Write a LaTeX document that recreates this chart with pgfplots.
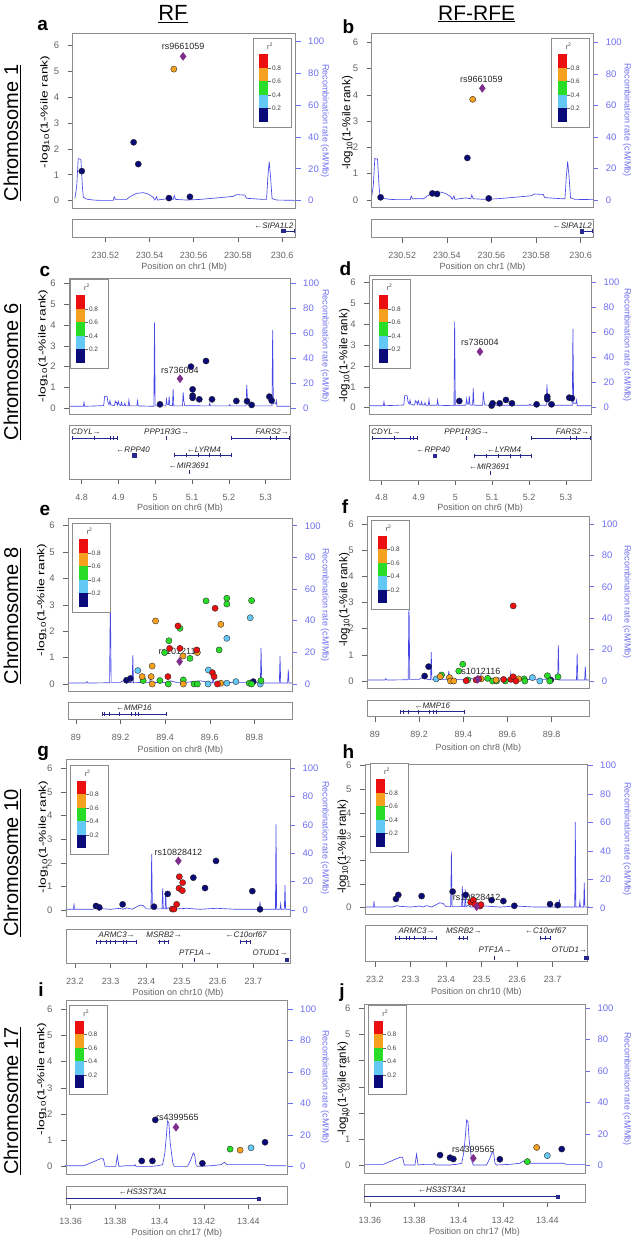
\documentclass[border=0pt]{standalone}
\usepackage{fontspec}
\setmainfont{Liberation Sans}
\usepackage{graphicx}
\usepackage{pgfplots}
\usepackage{pgfplotstable}
\pgfplotsset{compat=1.18}

\definecolor{lznavy}{RGB}{10,10,120}
\definecolor{lzcyan}{RGB}{100,200,245}
\definecolor{lzgreen}{RGB}{40,220,40}
\definecolor{lzorange}{RGB}{245,160,30}
\definecolor{lzred}{RGB}{235,15,15}
\definecolor{lzpurple}{RGB}{125,45,140}
\definecolor{recblue}{RGB}{70,70,230}
\definecolor{axblue}{RGB}{110,110,240}
\definecolor{tickgray}{RGB}{100,100,100}
\definecolor{boxgray}{RGB}{140,140,140}
\definecolor{genecol}{RGB}{40,40,140}

% recombination rate tables (Mb, cM/Mb)
\pgfplotstableread{
x y
230.5062 1.5
230.5070 8.8
230.5077 26.3
230.5089 25.9
230.5096 8.8
230.5100 2.1
230.5115 1.0
230.5145 0.4
230.5175 0.2
230.5236 0.2
230.5240 2.5
230.5246 0.8
230.5296 0.8
230.5311 2.5
230.5341 4.6
230.5372 5.0
230.5394 4.2
230.5417 2.1
230.5424 0.4
230.5432 2.5
230.5436 0.4
230.5485 1.3
230.5507 0.8
230.5512 3.1
230.5518 0.8
230.5568 0.4
230.5628 0.8
230.5703 1.7
230.5779 2.7
230.5794 3.8
230.5832 3.5
230.5839 1.5
230.5915 0.8
230.5930 0.8
230.5936 15
230.5942 24.4
230.5948 15
230.5955 1.3
230.5975 0.4
230.6061 0.2
}\recA
\pgfplotstableread{
x y
4.7665 1.6
4.8045 1.6
4.8063 4.8
4.8081 1.6
4.8407 1.9
4.8600 2.2
4.8625 9.6
4.8690 9.6
4.8715 4.8
4.8745 2.9
4.8769 6.1
4.8790 2.9
4.8859 2.1
4.8895 2.1
4.8913 5.6
4.8930 4.5
4.8950 4.8
4.8970 2.5
4.8995 5.6
4.9020 2.9
4.9060 2.1
4.9085 4.8
4.9105 2.1
4.9155 2.1
4.9175 4.0
4.9195 1.9
4.9265 1.9
4.9284 6.6
4.9303 1.9
4.9500 1.9
4.9519 6.1
4.9538 1.9
4.9962 1.6
4.9980 68.6
4.9998 1.9
5.0285 1.9
5.0306 7.2
5.0325 2.9
5.0360 2.9
5.0378 9.3
5.0396 2.1
5.0468 2.1
5.0486 15.4
5.0504 1.9
5.0740 1.9
5.0758 12.8
5.0776 6.1
5.0800 2.1
5.1462 1.9
5.1481 4.0
5.1500 1.9
5.2005 1.9
5.2023 2.9
5.2041 1.9
5.2467 1.9
5.2485 18.6
5.2503 8.8
5.2525 1.9
5.3172 1.9
5.3190 62.8
5.3208 3.5
5.3272 3.5
5.3290 6.1
5.3308 1.6
5.3678 1.6
}\recC
\pgfplotstableread{
x y
88.966 0.6
89.045 0.6
89.050 1.5
89.055 0.6
89.151 0.8
89.1545 55
89.158 1.0
89.200 1.0
89.210 2.0
89.225 1.5
89.240 1.0
89.252 0.8
89.2553 18.3
89.258 0.8
89.300 1.0
89.331 1.0
89.3346 6.4
89.338 1.0
89.400 0.8
89.425 2.0
89.450 1.0
89.477 1.0
89.480 4.0
89.483 0.8
89.520 1.5
89.560 2.0
89.600 0.8
89.612 0.8
89.615 5.0
89.618 0.8
89.700 1.0
89.827 1.0
89.830 22.9
89.833 0.6
89.912 0.6
89.915 17.6
89.918 0.6
89.949 0.6
89.952 9.1
89.955 0.6
89.968 0.6
}\recE
\pgfplotstableread{
x y
23.174 0.5
23.196 0.5
23.1972 4.7
23.1985 0.5
23.250 0.5
23.2607 1.5
23.2701 1.0
23.300 0.5
23.3262 1.2
23.335 0.5
23.3449 1.5
23.360 0.5
23.3822 3.5
23.3916 3.0
23.400 0.8
23.413 0.8
23.415 39.5
23.417 0.8
23.444 0.8
23.4458 15.3
23.4475 0.8
23.4525 0.8
23.4542 13.0
23.456 0.8
23.4617 1.6
23.470 0.5
23.5131 1.2
23.550 0.5
23.5972 1.2
23.650 0.5
23.717 0.5
23.7187 5.9
23.7205 0.5
23.7514 0.5
23.762 0.5
23.7636 60.5
23.7652 0.5
23.775 0.5
23.7766 4.2
23.778 0.5
23.787 0.5
23.7888 17.6
23.7905 0.5
23.8028 0.5
}\recG
\pgfplotstableread{
x y
13.3573 0.6
13.3660 0.6
13.3735 5.1
13.3747 5.1
13.3755 0.2
13.3803 0.2
13.3810 7.0
13.3817 0.2
13.3848 0.6
13.3886 0.6
13.3890 1.3
13.3895 0.2
13.3961 0.2
13.3991 0.6
13.4014 1.3
13.4024 8.7
13.4032 21.4
13.4036 28.9
13.4042 27.8
13.4048 15.1
13.4054 8.7
13.4060 2.3
13.4066 0.2
13.4126 0.2
13.4141 4.5
13.4152 8.7
13.4158 7.6
13.4164 1.3
13.4171 0.2
13.4232 0.6
13.4277 1.3
13.4292 2.8
13.4304 1.3
13.4382 1.3
13.4472 1.3
13.4487 0.6
13.4570 0.6
}\recI

\pgfplotsset{
  every axis/.append style={scale only axis, anchor=south west, scaled ticks=false, clip=false},
  /pgf/number format/assume math mode=true,
  mainax/.style={axis line style={boxgray, line width=0.5pt}, xtick=\empty, ytick={0,1,2,3,4,5,6}, ytick pos=left,
    tick align=outside, major tick length=5pt, every tick/.style={tickgray, line width=0.5pt},
    yticklabel style={font=\fontsize{9.5}{10}\selectfont, text=tickgray, xshift=-5pt}},
  recax/.style={axis x line=none, axis y line*=right, y axis line style={draw=none}, xtick=\empty,
    ytick={0,20,40,60,80,100}, tick align=outside, major tick length=5pt,
    every tick/.style={axblue, line width=0.5pt},
    yticklabel style={font=\fontsize{9.5}{10}\selectfont, text=axblue, xshift=4pt}},
  geneax/.style={axis line style={boxgray, line width=0.5pt}, ymin=0, ymax=1, ytick=\empty, xtick pos=bottom,
    tick align=outside, major tick length=5pt, every tick/.style={tickgray, line width=0.5pt},
    xticklabel style={font=\fontsize{9}{10}\selectfont, text=tickgray, yshift=-6pt}},
  pt/.style={only marks, mark=*, mark size=3.1pt, mark options={draw=black!85, line width=0.35pt, fill=#1}},
  lead/.style={only marks, mark=diamond*, mark size=4pt, mark options={draw=lzpurple, fill=lzpurple}},
  recline/.style={recblue, line width=0.65pt, mark=none},
  gene/.style={genecol, line width=0.6pt, mark=none},
  exon/.style={only marks, mark=|, mark size=2pt, mark options={genecol, line width=0.8pt}},
  exonbox/.style={only marks, mark=square*, mark size=1.6pt, mark options={genecol}},
}
\tikzset{
  rslab/.style={font=\fontsize{9}{10}\selectfont, text=black!85, inner sep=0pt},
  genelab/.style={font=\fontsize{8}{9}\selectfont\itshape, text=black!85, inner sep=0pt},
  xlab/.style={font=\fontsize{9}{10}\selectfont, text=tickgray},
  reclab/.style={font=\fontsize{9}{10}\selectfont, text=axblue, rotate=-90},
  ylabL/.style={rotate=90},
  ylabR/.style={rotate=90, font=\fontsize{11.5}{13}\selectfont},
  plet/.style={font=\fontsize{19}{20}\selectfont\bfseries, inner sep=0pt},
  chrlab/.style={rotate=90, font=\fontsize{20}{22}\selectfont},
}
\newcommand{\ylabtext}{-log\textsubscript{10}(1-\%ile rank)}
\newcommand{\ylabLeft}{\scalebox{1.38}[1]{\fontsize{10}{11}\selectfont\ylabtext}}
\newcommand{\rsqlegend}[2]{%
  \begin{scope}[shift={({#1pt},{1240pt-#2pt})}]
    \fill[white] (0,0) rectangle (38pt,-89pt);
    \draw[boxgray, line width=0.5pt] (0,0) rectangle (38pt,-89pt);
    \fill[lzred] (6pt,-16pt) rectangle (15pt,-29.5pt);
    \fill[lzorange] (6pt,-29.5pt) rectangle (15pt,-43pt);
    \fill[lzgreen] (6pt,-43pt) rectangle (15pt,-56.5pt);
    \fill[lzcyan] (6pt,-56.5pt) rectangle (15pt,-70pt);
    \fill[lznavy] (6pt,-70pt) rectangle (15pt,-83.5pt);
    \foreach \yy/\tt in {-29.5/0.8,-43/0.6,-56.5/0.4,-70/0.2}{
      \draw[black!60, line width=0.4pt] (15pt,\yy pt) -- (18pt,\yy pt);
      \node[anchor=west, inner sep=0.8pt, font=\fontsize{6.5}{7}\selectfont, text=black!75] at (18pt,\yy pt) {\tt};
    }
    \node[font=\fontsize{7}{8}\selectfont, text=black!75] at (17pt,-8pt) {r\textsuperscript{2}};
  \end{scope}}

\begin{document}
\begin{tikzpicture}
\path[use as bounding box] (0,0) rectangle (633pt,1240pt);

% titles and row labels
\node[font=\fontsize{22}{24}\selectfont] at (173pt,1226pt) {\underline{RF}};
\node[font=\fontsize{21}{24}\selectfont] at (476.7pt,1226pt) {\underline{RF-RFE}};
\node[chrlab] at (12pt,1107pt) {\underline{Chromosome 1}};
\node[chrlab] at (12pt,868pt) {\underline{Chromosome 6}};
\node[chrlab] at (12pt,624pt) {\underline{Chromosome 8}};
\node[chrlab] at (12pt,377pt) {\underline{Chromosome 10}};
\node[chrlab] at (12pt,139pt) {\underline{Chromosome 17}};

%%%%%%%%%%%%%%%% Panel a %%%%%%%%%%%%%%%%
\begin{axis}[recax, at={(72.7pt,1031.7pt)}, width=223pt, height=175pt, xmin=230.5052, xmax=230.6062, ymin=-4.76, ymax=104.8]
  \addplot[recline] table[x=x,y=y] {\recA};
  \draw[axblue, line width=0.6pt] (axis cs:230.6062,0) -- (axis cs:230.6062,100);
\end{axis}
\begin{axis}[mainax, at={(72.7pt,1031.7pt)}, width=223pt, height=175pt, xmin=230.5052, xmax=230.6062, ymin=-0.293, ymax=6.451]
  \node[rslab] at (axis cs:230.5552,5.93) {rs9661059};
  \addplot[pt=lznavy] coordinates {(230.5093,1.14) (230.5328,2.25) (230.5349,1.41) (230.5488,0.10) (230.5583,0.15)};
  \addplot[pt=lzorange] coordinates {(230.5510,5.07)};
  \addplot[lead] coordinates {(230.5552,5.56)};
\end{axis}
\begin{axis}[geneax, at={(72.7pt,1002.7pt)}, width=223pt, height=18.3pt, xmin=230.5052, xmax=230.6062, xtick={230.52,230.54,230.56,230.58,230.6}]
  \addplot[gene] coordinates {(230.6002,0.345) (230.6058,0.345)};
  \addplot[exonbox] coordinates {(230.6005,0.345)};
  \addplot[exon] coordinates {(230.6058,0.345)};
  \node[genelab] at (axis cs:230.5963,0.64) {←SIPA1L2};
\end{axis}
\node[ylabL] at (45pt,1128pt) {\ylabLeft};
\node[reclab] at (325pt,1119pt) {Recombination rate (cM/Mb)};
\node[xlab] at (184.2pt,973pt) {Position on chr1 (Mb)};
\node[plet] at (42.7pt,1214.5pt) {a};
\rsqlegend{253}{38.3}

%%%%%%%%%%%%%%%% Panel b %%%%%%%%%%%%%%%%
\begin{axis}[recax, at={(371.7pt,1032.7pt)}, width=221.6pt, height=174pt, xmin=230.5063, xmax=230.6057, ymin=-4.63, ymax=105.7]
  \addplot[recline] table[x=x,y=y] {\recA};
  \draw[axblue, line width=0.6pt] (axis cs:230.6057,0) -- (axis cs:230.6057,100);
\end{axis}
\begin{axis}[mainax, at={(371.7pt,1032.7pt)}, width=221.6pt, height=174pt, xmin=230.5063, xmax=230.6057, ymin=-0.278, ymax=6.343]
  \node[rslab] at (axis cs:230.5555,4.60) {rs9661059};
  \addplot[pt=lznavy] coordinates {(230.5103,0.10) (230.5335,0.25) (230.5356,0.23) (230.5492,1.60) (230.5588,0.06)};
  \addplot[pt=lzorange] coordinates {(230.5516,3.83)};
  \addplot[lead] coordinates {(230.5559,4.25)};
\end{axis}
\begin{axis}[geneax, at={(371.7pt,1002.3pt)}, width=221.6pt, height=18.7pt, xmin=230.5063, xmax=230.6057, xtick={230.52,230.54,230.56,230.58,230.6}]
  \addplot[gene] coordinates {(230.6002,0.345) (230.6055,0.345)};
  \addplot[exonbox] coordinates {(230.6005,0.345)};
  \addplot[exon] coordinates {(230.6055,0.345)};
  \node[genelab] at (axis cs:230.5963,0.64) {←SIPA1L2};
\end{axis}
\node[ylabR] at (347.5pt,1117pt) {\ylabtext};
\node[reclab] at (627pt,1120pt) {Recombination rate (cM/Mb)};
\node[xlab] at (482.5pt,973pt) {Position on chr1 (Mb)};
\node[plet] at (348.3pt,1213pt) {b};
\rsqlegend{551.7}{38.3}

%%%%%%%%%%%%%%%% Panel c %%%%%%%%%%%%%%%%
\begin{axis}[recax, at={(69.3pt,825.7pt)}, width=221.4pt, height=136pt, xmin=4.7665, xmax=5.368, ymin=-4.8, ymax=104]
  \addplot[recline] table[x=x,y=y] {\recC};
  \draw[axblue, line width=0.6pt] (axis cs:5.368,0) -- (axis cs:5.368,100);
\end{axis}
\begin{axis}[mainax, at={(69.3pt,825.7pt)}, width=221.4pt, height=136pt, xmin=4.7665, xmax=5.368, ymin=-0.288, ymax=6.24]
  \node[rslab] at (axis cs:5.0672,1.84) {rs736004};
  \addplot[pt=lznavy] coordinates {(5.0129,0.19) (5.0971,2.0) (5.1379,2.27) (5.1016,0.91) (5.1016,0.61) (5.1016,0.50) (5.1197,0.43) (5.1542,0.43) (5.2203,0.35) (5.2493,0.34) (5.2620,0.16) (5.3100,0.56) (5.3163,0.37)};
  \addplot[lead] coordinates {(5.0672,1.42)};
\end{axis}
\begin{axis}[geneax, at={(69.3pt,760.7pt)}, width=221.4pt, height=54.3pt, xmin=4.7665, xmax=5.368, xtick={4.8,4.9,5,5.1,5.2,5.3}]
  \addplot[gene] coordinates {(4.7756,0.758) (4.8967,0.758)};
  \addplot[exon] coordinates {(4.7756,0.758) (4.8343,0.758) (4.8769,0.758) (4.8859,0.758) (4.8967,0.758)};
  \addplot[exon] coordinates {(5.0306,0.758)};
  \addplot[gene] coordinates {(5.2069,0.758) (5.3651,0.758)};
  \addplot[exon] coordinates {(5.2069,0.758) (5.3127,0.758) (5.3278,0.758) (5.3651,0.758)};
  \addplot[exonbox] coordinates {(4.9429,0.442)};
  \addplot[gene] coordinates {(5.0514,0.442) (5.2069,0.442)};
  \addplot[exon] coordinates {(5.0514,0.442) (5.0848,0.442) (5.1165,0.442) (5.1481,0.442) (5.1770,0.442) (5.2069,0.442)};
  \addplot[exon] coordinates {(5.0939,0.133)};
  \node[genelab] at (axis cs:4.812,0.879) {CDYL→};
  \node[genelab] at (axis cs:5.031,0.879) {PPP1R3G→};
  \node[genelab] at (axis cs:5.318,0.879) {FARS2→};
  \node[genelab] at (axis cs:4.940,0.545) {←RPP40};
  \node[genelab] at (axis cs:5.132,0.545) {←LYRM4};
  \node[genelab] at (axis cs:5.092,0.242) {←MIR3691};
\end{axis}
\node[ylabL] at (43pt,894pt) {\ylabLeft};
\node[reclab] at (325pt,894pt) {Recombination rate (cM/Mb)};
\node[xlab] at (180pt,732pt) {Position on chr6 (Mb)};
\node[plet] at (45pt,968.3pt) {c};
\rsqlegend{70}{279.3}

%%%%%%%%%%%%%%%% Panel d %%%%%%%%%%%%%%%%
\begin{axis}[recax, at={(369.3pt,825.7pt)}, width=221.7pt, height=139.3pt, xmin=4.7665, xmax=5.368, ymin=-5.26, ymax=105.8]
  \addplot[recline] table[x=x,y=y] {\recC};
  \draw[axblue, line width=0.6pt] (axis cs:5.368,0) -- (axis cs:5.368,100);
\end{axis}
\begin{axis}[mainax, at={(369.3pt,825.7pt)}, width=221.7pt, height=139.3pt, xmin=4.7665, xmax=5.368, ymin=-0.316, ymax=6.35]
  \node[rslab] at (axis cs:5.0667,3.11) {rs736004};
  \addplot[pt=lznavy] coordinates {(5.0107,0.32) (5.0984,0.10) (5.1011,0.21) (5.1201,0.21) (5.1373,0.37) (5.1535,0.21) (5.2204,0.16) (5.2494,0.41) (5.2494,0.53) (5.2611,0.16) (5.3090,0.48) (5.3163,0.45)};
  \addplot[lead] coordinates {(5.0667,2.68)};
\end{axis}
\begin{axis}[geneax, at={(369.3pt,760pt)}, width=221.7pt, height=55pt, xmin=4.7665, xmax=5.368, xtick={4.8,4.9,5,5.1,5.2,5.3}]
  \addplot[gene] coordinates {(4.7756,0.758) (4.8967,0.758)};
  \addplot[exon] coordinates {(4.7756,0.758) (4.8343,0.758) (4.8769,0.758) (4.8859,0.758) (4.8967,0.758)};
  \addplot[exon] coordinates {(5.0306,0.758)};
  \addplot[gene] coordinates {(5.2069,0.758) (5.3651,0.758)};
  \addplot[exon] coordinates {(5.2069,0.758) (5.3127,0.758) (5.3278,0.758) (5.3651,0.758)};
  \addplot[exonbox] coordinates {(4.9429,0.442)};
  \addplot[gene] coordinates {(5.0514,0.442) (5.2069,0.442)};
  \addplot[exon] coordinates {(5.0514,0.442) (5.0848,0.442) (5.1165,0.442) (5.1481,0.442) (5.1770,0.442) (5.2069,0.442)};
  \addplot[exon] coordinates {(5.0939,0.133)};
  \node[genelab] at (axis cs:4.812,0.879) {CDYL→};
  \node[genelab] at (axis cs:5.031,0.879) {PPP1R3G→};
  \node[genelab] at (axis cs:5.318,0.879) {FARS2→};
  \node[genelab] at (axis cs:4.940,0.545) {←RPP40};
  \node[genelab] at (axis cs:5.132,0.545) {←LYRM4};
  \node[genelab] at (axis cs:5.092,0.242) {←MIR3691};
\end{axis}
\node[ylabR] at (344.5pt,884pt) {\ylabtext};
\node[reclab] at (627pt,895pt) {Recombination rate (cM/Mb)};
\node[xlab] at (480.2pt,732pt) {Position on chr6 (Mb)};
\node[plet] at (345.5pt,971pt) {d};
\rsqlegend{372.7}{279.3}

%%%%%%%%%%%%%%%% Panel e %%%%%%%%%%%%%%%%
\begin{axis}[recax, at={(68.3pt,548.3pt)}, width=224pt, height=173.4pt, xmin=88.966, xmax=89.97, ymin=-4.86, ymax=104.7]
  \addplot[recline] table[x=x,y=y] {\recE};
  \draw[axblue, line width=0.6pt] (axis cs:89.97,0) -- (axis cs:89.97,100);
\end{axis}
\begin{axis}[mainax, at={(68.3pt,548.3pt)}, width=224pt, height=173.4pt, xmin=88.966, xmax=89.97, ymin=-0.292, ymax=6.28]
  \node[rslab] at (axis cs:89.465,1.23) {rs1012116};
  \addplot[pt=lznavy] coordinates {(89.2265,0.14) (89.2445,0.21) (89.795,0.09)};
  \addplot[pt=lzcyan] coordinates {(89.2775,0.51) (89.594,0.53) (89.5925,0) (89.6765,1.73) (89.6765,0.03) (89.717,0.09) (89.7815,2.51) (89.8265,0)};
  \addplot[pt=lzgreen] coordinates {(89.3015,0.13) (89.3765,0.13) (89.414,0) (89.417,1.64) (89.3975,1.19) (89.4665,2.11) (89.4815,0.15) (89.5115,0.97) (89.5295,0) (89.5445,0) (89.5835,3.15) (89.642,1.29) (89.6765,3.25) (89.6765,3.03) (89.7875,3.16) (89.777,0.03) (89.7875,0) (89.8295,0.13)};
  \addplot[pt=lzorange] coordinates {(89.297,0.28) (89.3375,0.28) (89.342,0.68) (89.342,0) (89.357,2.39) (89.48,1.06) (89.4815,0) (89.5445,1.19) (89.6495,2.26) (89.6495,0.03)};
  \addplot[pt=lzred] coordinates {(89.4125,0.28) (89.42,1.35) (89.4575,2.20) (89.4665,1.35) (89.5415,1.29) (89.612,0.43) (89.6195,0.28) (89.624,2.87) (89.6345,0)};
  \addplot[lead] coordinates {(89.465,0.85)};
\end{axis}
\begin{axis}[geneax, at={(68.3pt,520.7pt)}, width=224pt, height=16.6pt, xmin=88.966, xmax=89.97, xtick={89,89.2,89.4,89.6,89.8}]
  \addplot[gene] coordinates {(89.117,0.3) (89.407,0.3)};
  \addplot[exon] coordinates {(89.117,0.3) (89.129,0.3) (89.151,0.3) (89.196,0.3) (89.248,0.3) (89.267,0.3) (89.279,0.3) (89.407,0.3)};
  \node[genelab] at (axis cs:89.26,0.68) {←MMP16};
\end{axis}
\node[ylabL] at (41.7pt,640pt) {\ylabLeft};
\node[reclab] at (325pt,635pt) {Recombination rate (cM/Mb)};
\node[xlab] at (180.3pt,489.5pt) {Position on chr8 (Mb)};
\node[plet] at (45pt,730pt) {e};
\rsqlegend{72.7}{523.3}

%%%%%%%%%%%%%%%% Panel f %%%%%%%%%%%%%%%%
\begin{axis}[recax, at={(367.3pt,551.7pt)}, width=222pt, height=171.6pt, xmin=88.966, xmax=89.97, ymin=-4.65, ymax=104.6]
  \addplot[recline] table[x=x,y=y] {\recE};
  \draw[axblue, line width=0.6pt] (axis cs:89.97,0) -- (axis cs:89.97,100);
\end{axis}
\begin{axis}[mainax, at={(367.3pt,551.7pt)}, width=222pt, height=171.6pt, xmin=88.966, xmax=89.97, ymin=-0.279, ymax=6.28]
  \node[rslab] at (axis cs:89.4728,0.38) {rs1012116};
  \addplot[pt=lznavy] coordinates {(89.2252,0.19) (89.2432,0.55) (89.7957,0.04)};
  \addplot[pt=lzcyan] coordinates {(89.2778,0.08) (89.7128,0.13) (89.7461,0)};
  \addplot[pt=lzgreen] coordinates {(89.3017,0.23) (89.3796,0.38) (89.3976,0.64) (89.420,0.04) (89.5102,0.10) (89.5327,0) (89.5507,0) (89.5899,0) (89.6755,0.08) (89.6785,0) (89.7804,0.20) (89.791,0) (89.8286,0.16)};
  \addplot[pt=lzorange] coordinates {(89.2958,0.17) (89.3377,0.13) (89.3422,0) (89.357,0) (89.4805,0.08) (89.548,0.04) (89.6498,0.08)};
  \addplot[pt=lzred] coordinates {(89.4129,0.01) (89.458,0.04) (89.4697,0.08) (89.5822,0.06) (89.6155,0.06) (89.6259,0.16) (89.638,0) (89.6259,2.87)};
  \addplot[lead] coordinates {(89.465,0.06)};
\end{axis}
\begin{axis}[geneax, at={(367.3pt,523.3pt)}, width=222pt, height=16.7pt, xmin=88.966, xmax=89.97, xtick={89,89.2,89.4,89.6,89.8}]
  \addplot[gene] coordinates {(89.117,0.3) (89.407,0.3)};
  \addplot[exon] coordinates {(89.117,0.3) (89.129,0.3) (89.151,0.3) (89.196,0.3) (89.248,0.3) (89.267,0.3) (89.279,0.3) (89.407,0.3)};
  \node[genelab] at (axis cs:89.26,0.68) {←MMP16};
\end{axis}
\node[ylabR] at (344.5pt,640pt) {\ylabtext};
\node[reclab] at (627pt,638pt) {Recombination rate (cM/Mb)};
\node[xlab] at (478.3pt,492pt) {Position on chr8 (Mb)};
\node[plet] at (345pt,733.3pt) {f};
\rsqlegend{371.7}{520}

%%%%%%%%%%%%%%%% Panel g %%%%%%%%%%%%%%%%
\begin{axis}[recax, at={(66pt,323.3pt)}, width=224pt, height=157.7pt, xmin=23.1748, xmax=23.8028, ymin=-4.73, ymax=106.6]
  \addplot[recline] table[x=x,y=y] {\recG};
  \draw[axblue, line width=0.6pt] (axis cs:23.8028,0) -- (axis cs:23.8028,100);
\end{axis}
\begin{axis}[mainax, at={(66pt,323.3pt)}, width=224pt, height=157.7pt, xmin=23.1748, xmax=23.8028, ymin=-0.284, ymax=6.40]
  \node[rslab] at (axis cs:23.4897,2.44) {rs10828412};
  \addplot[pt=lznavy] coordinates {(23.2589,0.17) (23.2682,0.11) (23.3336,0.24) (23.4215,0.14) (23.4598,0.68) (23.5318,1.37) (23.5645,0.93) (23.5953,2.08) (23.6972,0.80) (23.7187,0.03)};
  \addplot[pt=lzred] coordinates {(23.4729,0.04) (23.4776,0.04) (23.485,0.24) (23.4925,1.41) (23.4916,0.92) (23.5019,1.16) (23.5009,0.82)};
  \addplot[lead] coordinates {(23.4897,2.08)};
\end{axis}
\begin{axis}[geneax, at={(66pt,276.7pt)}, width=224pt, height=34pt, xmin=23.1748, xmax=23.8028, xtick={23.2,23.3,23.4,23.5,23.6,23.7}]
  \addplot[gene] coordinates {(23.2576,0.637) (23.3723,0.637)};
  \addplot[exon] coordinates {(23.2589,0.637) (23.2701,0.637) (23.2888,0.637) (23.2981,0.637) (23.3121,0.637) (23.3355,0.637) (23.343,0.637) (23.3723,0.637)};
  \addplot[gene] coordinates {(23.433,0.637) (23.461,0.637)};
  \addplot[exon] coordinates {(23.4364,0.637) (23.45,0.637) (23.4610,0.637)};
  \addplot[gene] coordinates {(23.6635,0.637) (23.693,0.637)};
  \addplot[exon] coordinates {(23.665,0.637) (23.68,0.637) (23.693,0.637)};
  \addplot[exon] coordinates {(23.535,0.10)};
  \addplot[exonbox] coordinates {(23.7945,0.10)};
  \node[genelab] at (axis cs:23.317,0.833) {ARMC3→};
  \node[genelab] at (axis cs:23.45,0.833) {MSRB2→};
  \node[genelab] at (axis cs:23.68,0.833) {←C10orf67};
  \node[genelab] at (axis cs:23.538,0.324) {PTF1A→};
  \node[genelab] at (axis cs:23.747,0.324) {OTUD1→};
\end{axis}
\node[ylabL] at (43.3pt,403pt) {\ylabLeft};
\node[reclab] at (325pt,402pt) {Recombination rate (cM/Mb)};
\node[xlab] at (178pt,247pt) {Position on chr10 (Mb)};
\node[plet] at (43.3pt,486.7pt) {g};
\rsqlegend{70.7}{765}

%%%%%%%%%%%%%%%% Panel h %%%%%%%%%%%%%%%%
\begin{axis}[recax, at={(365pt,326pt)}, width=222.7pt, height=150pt, xmin=23.172, xmax=23.7985, ymin=-4.4, ymax=101.2]
  \addplot[recline] table[x=x,y=y] {\recG};
  \draw[axblue, line width=0.6pt] (axis cs:23.7985,0) -- (axis cs:23.7985,100);
\end{axis}
\begin{axis}[mainax, at={(365pt,326pt)}, width=222.7pt, height=150pt, xmin=23.172, xmax=23.7985, ymin=-0.266, ymax=6.07]
  \node[rslab] at (axis cs:23.4861,0.42) {rs10828412};
  \addplot[pt=lznavy] coordinates {(23.2591,0.37) (23.2657,0.54) (23.3313,0.49) (23.4186,0.68) (23.4552,0.54) (23.5283,0.32) (23.5612,0.28) (23.5921,0.08) (23.6925,0.15) (23.7141,0.11)};
  \addplot[pt=lzred] coordinates {(23.4692,0.23) (23.4767,0.32) (23.4814,0.14) (23.4955,0.07) (23.4983,0.13)};
  \addplot[lead] coordinates {(23.4861,0.04)};
\end{axis}
\begin{axis}[geneax, at={(365pt,278.3pt)}, width=222.7pt, height=36.7pt, xmin=23.172, xmax=23.7985, xtick={23.2,23.3,23.4,23.5,23.6,23.7}]
  \addplot[gene] coordinates {(23.2576,0.637) (23.3723,0.637)};
  \addplot[exon] coordinates {(23.2589,0.637) (23.2701,0.637) (23.2888,0.637) (23.2981,0.637) (23.3121,0.637) (23.3355,0.637) (23.343,0.637) (23.3723,0.637)};
  \addplot[gene] coordinates {(23.433,0.637) (23.461,0.637)};
  \addplot[exon] coordinates {(23.4364,0.637) (23.45,0.637) (23.4610,0.637)};
  \addplot[gene] coordinates {(23.6635,0.637) (23.693,0.637)};
  \addplot[exon] coordinates {(23.665,0.637) (23.68,0.637) (23.693,0.637)};
  \addplot[exon] coordinates {(23.535,0.10)};
  \addplot[exonbox] coordinates {(23.7945,0.10)};
  \node[genelab] at (axis cs:23.317,0.833) {ARMC3→};
  \node[genelab] at (axis cs:23.45,0.833) {MSRB2→};
  \node[genelab] at (axis cs:23.68,0.833) {←C10orf67};
  \node[genelab] at (axis cs:23.538,0.324) {PTF1A→};
  \node[genelab] at (axis cs:23.747,0.324) {OTUD1→};
\end{axis}
\node[ylabR] at (343pt,393pt) {\ylabtext};
\node[reclab] at (627pt,401pt) {Recombination rate (cM/Mb)};
\node[xlab] at (476.3pt,248.3pt) {Position on chr10 (Mb)};
\node[plet] at (348.3pt,488.3pt) {h};
\rsqlegend{370}{763.3}

%%%%%%%%%%%%%%%% Panel i %%%%%%%%%%%%%%%%
\begin{axis}[recax, at={(66pt,65.7pt)}, width=221.7pt, height=174.3pt, xmin=13.3579, xmax=13.4577, ymin=-4.82, ymax=105.7]
  \addplot[recline] table[x=x,y=y] {\recI};
  \draw[axblue, line width=0.6pt] (axis cs:13.4577,0) -- (axis cs:13.4577,100);
\end{axis}
\begin{axis}[mainax, at={(66pt,65.7pt)}, width=221.7pt, height=174.3pt, xmin=13.3579, xmax=13.4577, ymin=-0.289, ymax=6.343]
  \node[rslab] at (axis cs:13.408,1.86) {rs4399565};
  \addplot[pt=lznavy] coordinates {(13.392,0.22) (13.3968,0.22) (13.3981,1.78) (13.4193,0.13) (13.4475,0.93)};
  \addplot[pt=lzgreen] coordinates {(13.4318,0.67)};
  \addplot[pt=lzorange] coordinates {(13.4363,0.63)};
  \addplot[pt=lzcyan] coordinates {(13.4412,0.72)};
  \addplot[lead] coordinates {(13.4074,1.50)};
\end{axis}
\begin{axis}[geneax, at={(66pt,36pt)}, width=221.7pt, height=18pt, xmin=13.3579, xmax=13.4577, xtick={13.36,13.38,13.4,13.42,13.44}]
  \addplot[gene] coordinates {(13.3579,0.31) (13.4448,0.31)};
  \addplot[exonbox] coordinates {(13.4448,0.31)};
  \node[genelab] at (axis cs:13.3925,0.68) {←HS3ST3A1};
\end{axis}
\node[ylabL] at (41.7pt,161pt) {\ylabLeft};
\node[reclab] at (325pt,153pt) {Recombination rate (cM/Mb)};
\node[xlab] at (176.8pt,6.7pt) {Position on chr17 (Mb)};
\node[plet] at (41pt,250pt) {i};
\rsqlegend{69.3}{1005}

%%%%%%%%%%%%%%%% Panel j %%%%%%%%%%%%%%%%
\begin{axis}[recax, at={(364pt,66.7pt)}, width=221pt, height=169pt, xmin=13.3573, xmax=13.457, ymin=-5.1, ymax=102.5]
  \addplot[recline] table[x=x,y=y] {\recI};
  \draw[axblue, line width=0.6pt] (axis cs:13.457,0) -- (axis cs:13.457,100);
\end{axis}
\begin{axis}[mainax, at={(364pt,66.7pt)}, width=221pt, height=169pt, xmin=13.3573, xmax=13.457, ymin=-0.306, ymax=6.15]
  \node[rslab] at (axis cs:13.4066,0.59) {rs4399565};
  \addplot[pt=lznavy] coordinates {(13.3916,0.39) (13.3961,0.29) (13.3976,0.24) (13.4186,0.23) (13.4465,0.62)};
  \addplot[pt=lzgreen] coordinates {(13.431,0.14)};
  \addplot[pt=lzorange] coordinates {(13.4352,0.68)};
  \addplot[pt=lzcyan] coordinates {(13.44,0.37)};
  \addplot[lead] coordinates {(13.4066,0.27)};
\end{axis}
\begin{axis}[geneax, at={(364pt,37.7pt)}, width=221pt, height=18pt, xmin=13.3573, xmax=13.457, xtick={13.36,13.38,13.4,13.42,13.44}]
  \addplot[gene] coordinates {(13.3573,0.31) (13.4448,0.31)};
  \addplot[exonbox] coordinates {(13.4448,0.31)};
  \node[genelab] at (axis cs:13.3925,0.68) {←HS3ST3A1};
\end{axis}
\node[ylabR] at (343pt,151pt) {\ylabtext};
\node[reclab] at (627pt,151pt) {Recombination rate (cM/Mb)};
\node[xlab] at (474.5pt,8.3pt) {Position on chr17 (Mb)};
\node[plet] at (342pt,247pt) {j};
\rsqlegend{368.3}{1005}

\end{tikzpicture}
\end{document}
